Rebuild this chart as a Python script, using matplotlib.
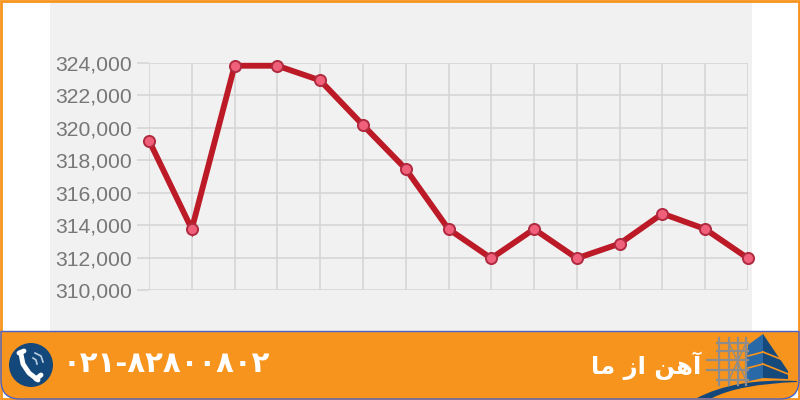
#!/usr/bin/env python3
import matplotlib
matplotlib.use('Agg')
import matplotlib.pyplot as plt
from matplotlib.patches import Circle, PathPatch, Polygon, Rectangle
from matplotlib.path import Path

points = list(range(15))
prices = [319200, 313750, 323800, 323800, 322900, 320150, 317450, 313750,
          311950, 313750, 311950, 312850, 314700, 313750, 311950]
y_ticks = [310000, 312000, 314000, 316000, 318000, 320000, 322000, 324000]
phone = '۰۲۱-۸۲۸۰۰۸۰۲'
# presentation forms in visual order, matplotlib does no shaping
brand = 'ﺎﻣ ﺯﺍ ﻦﻫﺁ'

W, H = 800, 400
fig = plt.figure(figsize=(W / 100, H / 100), dpi=100, facecolor='white')

# page background in pixel coordinates
bg = fig.add_axes([0, 0, 1, 1])
bg.set_xlim(0, W)
bg.set_ylim(H, 0)
bg.axis('off')
bg.add_patch(Rectangle((50, 0), 702, 335, color='#f1f1f1', lw=0))
bg.add_patch(Rectangle((1, 1), 798, 398, fill=False, ec='#f7941d', lw=2))
banner = Path([(1, 331.5), (799, 331.5), (799, 380), (799, 399), (780, 399),
               (20, 399), (1, 399), (1, 380), (1, 331.5)],
              [Path.MOVETO, Path.LINETO, Path.LINETO, Path.CURVE3, Path.CURVE3,
               Path.LINETO, Path.CURVE3, Path.CURVE3, Path.CLOSEPOLY])
bg.add_patch(PathPatch(banner, fc='#f7941d', ec='#4a62c4', lw=1))

# phone icon
bg.add_patch(Circle((31, 365), 22, color='#14487a', lw=0))
bg.plot([21, 23, 29, 38], [354, 364, 373, 380], color='white', lw=3.5, solid_capstyle='round')
bg.plot([19, 24], [353, 351], color='white', lw=3.5, solid_capstyle='round')
bg.plot([36, 41], [379, 375], color='white', lw=3.5, solid_capstyle='round')
bg.plot([33, 36, 37], [358, 360, 364], color='#b9cfe2', lw=1.2)
bg.plot([35, 41, 43], [353, 356, 362], color='#b9cfe2', lw=1.2)

bg.text(166.5, 364, phone, color='white', fontsize=21, fontweight='bold',
        family='DejaVu Sans', ha='center', va='center')
bg.text(646, 366, brand, color='white', fontsize=17.5, fontweight='bold',
        family='DejaVu Sans', ha='center', va='center')

# building logo
bg.add_patch(Polygon([(748, 345), (763, 334), (763, 378), (745, 382)], color='#2a69a8', lw=0))
bg.add_patch(Polygon([(763, 334), (788, 371), (788, 379), (763, 378)], color='#174a7c', lw=0))
for y0, y1 in [(354, 360), (366, 372)]:
    bg.plot([748, 763], [y0 + 2, y0 - 2], color='#f7941d', lw=1.2)
    bg.plot([763, 788], [y0 - 2, y1 + 2], color='#f7941d', lw=1.2)
for x in [719, 729, 738, 746]:
    bg.plot([x, x], [338, 385], color='#8c8c8c', lw=1.6)
for y in [343, 351, 360, 370, 380]:
    bg.plot([707 if y in (360, 370) else 717, 748], [y, y], color='#8c8c8c', lw=1.6)
bg.plot([729, 746], [343, 380], color='#8c8c8c', lw=1)
bg.plot([746, 729], [343, 380], color='#8c8c8c', lw=1)
swoosh = Path([(697, 398), (735, 378), (797, 381), (797, 382), (740, 384), (712, 398), (697, 398)],
              [Path.MOVETO, Path.CURVE3, Path.CURVE3, Path.LINETO, Path.CURVE3, Path.CURVE3, Path.CLOSEPOLY])
bg.add_patch(PathPatch(swoosh, fc='#14487a', lw=0))

# chart, axes box spans the pixel positions of the first and last point
ax = fig.add_axes([149 / W, 1 - 290 / H, (748 - 149) / W, (290 - 62.5) / H])
ax.patch.set_alpha(0)
ax.set_xlim(0, 14)
ax.set_ylim(310000, 324000)
ax.set_xticks(points)
ax.set_xticklabels([])
ax.set_yticks(y_ticks)
ax.set_yticklabels([f'{v:,}' for v in y_ticks], color='#777777', fontsize=15.2,
                   family='Liberation Sans')
ax.grid(color='#d4d4d4', lw=1.1)
ax.tick_params(axis='y', length=9, color='#d4d4d4', width=1.1, pad=3)
ax.tick_params(axis='x', length=0)
for side in ['top', 'left', 'right', 'bottom']:
    ax.spines[side].set_visible(False)
ax.plot(points, prices, color='#bb1a26', lw=4.2, marker='o', ms=8,
        mfc='#f0607a', mec='#b02a40', mew=1.4, clip_on=False, solid_joinstyle='miter')

fig.savefig('out.png', dpi=100)
